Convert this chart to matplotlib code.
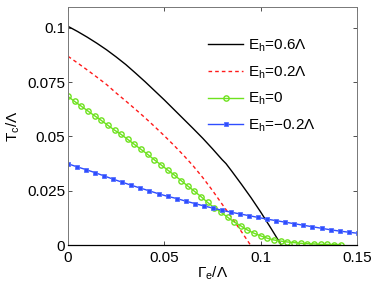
import numpy as np
import matplotlib
matplotlib.use("Agg")
import matplotlib.pyplot as plt

plt.rcParams['font.family'] = ['Liberation Sans', 'DejaVu Sans']
plt.rcParams['mathtext.fontset'] = 'custom'
plt.rcParams['mathtext.rm'] = 'Liberation Sans'
plt.rcParams['mathtext.it'] = 'Liberation Sans'

# ---- data ----
gamma_06 = [0.0, 0.005, 0.01, 0.015, 0.02, 0.025, 0.03, 0.035, 0.04, 0.045, 0.05,
            0.055, 0.06, 0.065, 0.07, 0.075, 0.08, 0.082, 0.085, 0.09, 0.095,
            0.1, 0.105, 0.11, 0.1107]
tc_06 = [0.1007, 0.0983, 0.0957, 0.0929, 0.0899, 0.0866, 0.0831, 0.0792, 0.0752,
         0.0710, 0.0668, 0.0624, 0.0580, 0.0536, 0.0491, 0.0443, 0.0393, 0.0375,
         0.0340, 0.0280, 0.0218, 0.0152, 0.0082, 0.0010, 0.0]

gamma_02 = [0.0, 0.005, 0.01, 0.015, 0.02, 0.025, 0.03, 0.035, 0.04, 0.045, 0.05,
            0.055, 0.06, 0.065, 0.07, 0.075, 0.08, 0.085, 0.09, 0.0947]
tc_02 = [0.0869, 0.0838, 0.0806, 0.0773, 0.0739, 0.0700, 0.0663, 0.0625, 0.0586,
         0.0545, 0.0503, 0.0459, 0.0413, 0.0364, 0.0310, 0.0251, 0.0188, 0.0126,
         0.0062, 0.0]

gamma_0 = np.arange(42) * 0.00345
tc_0 = [0.0684, 0.0661, 0.0639, 0.0617, 0.0595, 0.0574, 0.0551, 0.0529, 0.0509,
        0.0486, 0.0463, 0.0440, 0.0417, 0.0392, 0.0369, 0.0345, 0.0322, 0.0297,
        0.0272, 0.0248, 0.0223, 0.0196, 0.0172, 0.0151, 0.0128, 0.0106, 0.0088,
        0.0069, 0.0054, 0.0042, 0.0031, 0.0023, 0.0018, 0.0014, 0.0011, 0.0008,
        0.0006, 0.0005, 0.0003, 0.0003, 0.0002, 0.0002]

gamma_m02 = np.arange(33) * 0.0047
tc_m02 = [0.0374, 0.0360, 0.0347, 0.0333, 0.0318, 0.0303, 0.0289, 0.0275, 0.0262,
          0.0249, 0.0236, 0.0224, 0.0214, 0.0202, 0.0191, 0.0180, 0.0170, 0.0160,
          0.0151, 0.0143, 0.0135, 0.0127, 0.0119, 0.0112, 0.0105, 0.0098, 0.0091,
          0.0084, 0.0077, 0.0070, 0.0064, 0.0059, 0.0054]

labels = [r'E$_\mathregular{h}$=0.6Λ', r'E$_\mathregular{h}$=0.2Λ',
          r'E$_\mathregular{h}$=0', r'E$_\mathregular{h}$=−0.2Λ']
xticks = [0, 0.05, 0.1, 0.15]
xticklabels = ['0', '0.05', '0.1', '0.15']
yticks = [0, 0.025, 0.05, 0.075, 0.1]
yticklabels = ['0', '0.025', '0.05', '0.075', '0.1']

# ---- figure ----
fig = plt.figure(figsize=(3.74, 2.82), dpi=100)
ax = fig.add_axes([0.1818, 0.1312, 0.7727, 0.844])

ax.plot(gamma_06, tc_06, color='black', lw=1.0, label=labels[0])
ax.plot(gamma_02, tc_02, color='#ff1a1a', lw=1.0, dashes=[2.6, 2.2], label=labels[1])
ax.plot(gamma_0, tc_0, color='#6ee21e', lw=1.0, marker='o', ms=3.8,
        mfc='none', mec='#6ee21e', mew=1.0, label=labels[2])
ax.plot(gamma_m02, tc_m02, color='#2f4dff', lw=1.0, marker='s', ms=3.4,
        mfc='#2f4dff', mec='#5570ff', mew=0.6, label=labels[3])

ax.set_xlim(0, 0.15)
ax.set_ylim(0, 0.1096)
ax.set_xticks(xticks)
ax.set_xticklabels(xticklabels)
ax.set_yticks(yticks)
ax.set_yticklabels(yticklabels)
ax.tick_params(direction='in', length=3, width=0.6, top=True, right=True,
               labelsize=11, colors='#333333', labelcolor='black')
ax.tick_params(axis='x', pad=4)
ax.tick_params(axis='y', pad=2)
for side in ['left', 'top', 'right']:
    ax.spines[side].set_color('#777777')
    ax.spines[side].set_linewidth(0.7)
ax.spines['bottom'].set_color('black')
ax.spines['bottom'].set_linewidth(0.9)

ax.set_xlabel(r'$\Gamma_\mathregular{e}$/Λ', fontsize=11, labelpad=0)
ax.set_ylabel(r'T$_\mathregular{c}$/Λ', fontsize=11, labelpad=4)

leg = ax.legend(loc='upper left', bbox_to_anchor=(0.4637, 0.897), frameon=False,
                fontsize=11, handlelength=2.3, handletextpad=0.3,
                labelspacing=0.67, numpoints=1, borderaxespad=0)

fig.savefig('out.png', dpi=100)
